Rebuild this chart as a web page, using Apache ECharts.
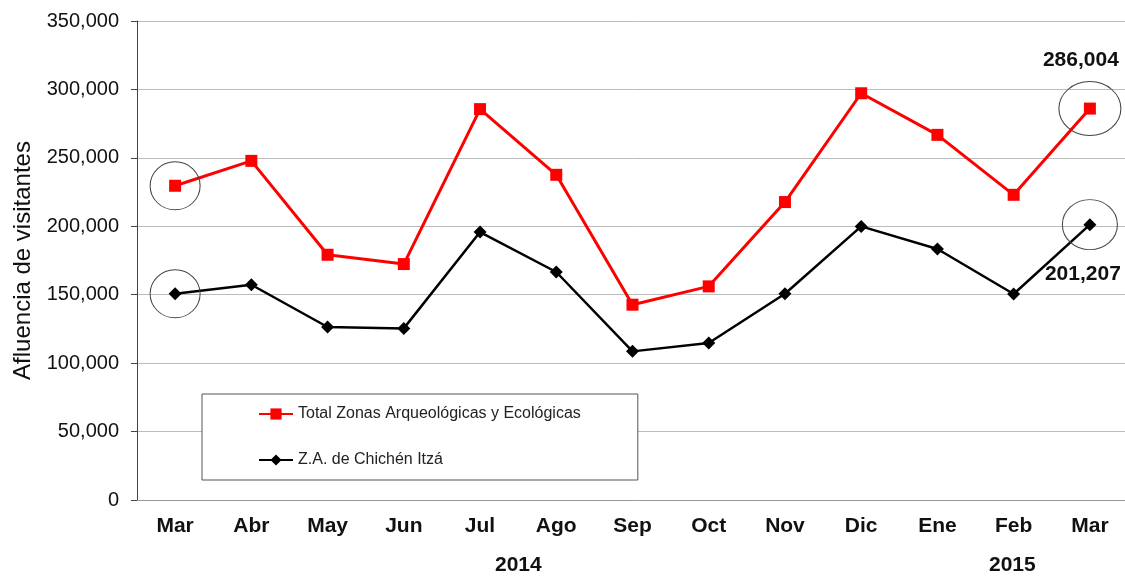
<!DOCTYPE html>
<html>
<head>
<meta charset="utf-8">
<script src="https://cdn.jsdelivr.net/npm/echarts@6/dist/echarts.min.js"></script>
<style>
html,body{margin:0;padding:0;background:#fff;overflow:hidden;width:1125px;height:576px;}
#chart{width:1131px;height:576px;}
</style>
</head>
<body>
<div id="chart"></div>
<script>
const months = ['Mar','Abr','May','Jun','Jul','Ago','Sep','Oct','Nov','Dic','Ene','Feb','Mar'];
const yearLabels = ['2014','2015'];
const totalName = 'Total Zonas Arqueológicas y Ecológicas';
const chichenName = 'Z.A. de Chichén Itzá';
const totalValues = [229600, 247800, 179200, 172400, 285600, 237600, 142700, 156100, 217700, 297200, 266800, 223000, 286004];
const chichenValues = [150700, 157300, 126400, 125400, 195800, 166600, 108600, 114700, 150700, 199900, 183400, 150500, 201207];
const yTicks = [0, 50000, 100000, 150000, 200000, 250000, 300000, 350000];

const fmt = v => v.toLocaleString('en-US');
const FONT = 'Liberation Sans, Arial, sans-serif';

function withLastLabel(values, offset) {
  return values.map((v, i) => {
    if (i !== values.length - 1) return v;
    return {
      value: v,
      label: {
        show: true,
        formatter: p => fmt(p.value),
        position: 'inside',
        offset: offset,
        fontFamily: FONT,
        fontWeight: 'bold',
        fontSize: 21,
        color: '#111'
      }
    };
  });
}

function circleMarks(values, sizeFirst, sizeLast) {
  const last = values.length - 1;
  return {
    silent: true,
    symbol: 'circle',
    itemStyle: { color: 'rgba(0,0,0,0)', borderColor: '#444', borderWidth: 1 },
    label: { show: false },
    data: [
      { coord: [0, values[0]], symbolSize: sizeFirst },
      { coord: [last, values[last]], symbolSize: sizeLast }
    ]
  };
}

const chart = echarts.init(document.getElementById('chart'));
chart.setOption({
  animation: false,
  backgroundColor: '#fff',
  grid: { left: 137, top: 21, right: 3, bottom: 76, containLabel: false },
  legend: {
    orient: 'vertical',
    left: 202,
    top: 394,
    padding: [12, 57, 12, 56],
    itemGap: 30,
    itemWidth: 34,
    itemHeight: 14,
    borderColor: '#555',
    borderWidth: 1,
    backgroundColor: '#fff',
    textStyle: { fontFamily: FONT, fontSize: 16, color: '#222' },
    data: [totalName, chichenName]
  },
  xAxis: {
    type: 'category',
    data: months,
    boundaryGap: true,
    axisLine: { lineStyle: { color: '#999', width: 1 } },
    axisTick: { show: false },
    axisLabel: { fontFamily: FONT, fontWeight: 'bold', fontSize: 21, color: '#111', margin: 16 },
    splitLine: { show: false }
  },
  yAxis: {
    type: 'value',
    min: yTicks[0],
    max: yTicks[yTicks.length - 1],
    interval: yTicks[1] - yTicks[0],
    name: 'Afluencia de visitantes',
    nameLocation: 'middle',
    nameGap: 93,
    nameRotate: 90,
    nameTextStyle: { fontFamily: FONT, fontSize: 24, color: '#111' },
    axisLine: { show: true, lineStyle: { color: '#444', width: 1 } },
    axisTick: { show: true, length: 6, lineStyle: { color: '#444' } },
    axisLabel: { fontFamily: FONT, fontSize: 20, color: '#111', margin: 18, formatter: v => fmt(v) },
    splitLine: { show: true, lineStyle: { color: '#bbb', width: 1 } }
  },
  series: [
    {
      name: totalName,
      type: 'line',
      data: withLastLabel(totalValues, [-9, -48]),
      symbol: 'rect',
      symbolSize: 12,
      lineStyle: { color: '#ff0000', width: 3 },
      itemStyle: { color: '#ff0000' },
      z: 3,
      markPoint: circleMarks(totalValues, [50, 48], [62, 54])
    },
    {
      name: chichenName,
      type: 'line',
      data: withLastLabel(chichenValues, [-7, 50]),
      symbol: 'diamond',
      symbolSize: 13,
      lineStyle: { color: '#000', width: 2.5 },
      itemStyle: { color: '#000' },
      z: 4,
      markPoint: circleMarks(chichenValues, [50, 48], [55, 50])
    }
  ],
  graphic: [
    { type: 'text', left: 495, top: 555, style: { text: yearLabels[0], font: 'bold 21px ' + FONT, fill: '#111' } },
    { type: 'text', left: 989, top: 555, style: { text: yearLabels[1], font: 'bold 21px ' + FONT, fill: '#111' } }
  ]
});
</script>
</body>
</html>
